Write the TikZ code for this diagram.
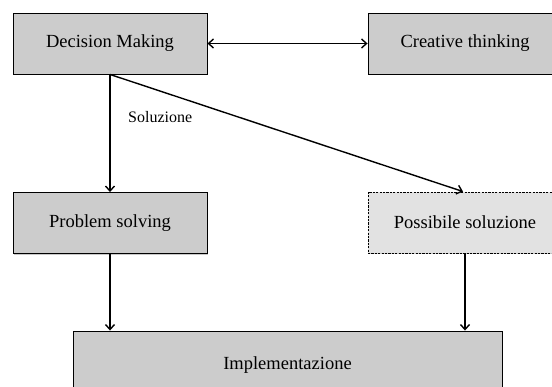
\documentclass[tikz,border=0pt]{standalone}
\usepackage{fontspec}
\setmainfont{Liberation Serif}
\usetikzlibrary{arrows.meta,shadows}
\definecolor{boxgray}{HTML}{CCCCCC}
\definecolor{lightgray2}{HTML}{E2E2E2}
\tikzset{
  block/.style={draw=black, line width=0.9pt, fill=boxgray, inner sep=0pt,
    minimum width=194pt, minimum height=61pt,
    font=\fontsize{18.5}{22}\selectfont,
    drop shadow={shadow xshift=1.2pt, shadow yshift=-1.5pt, fill=black!35, opacity=0.6}},
  optblock/.style={block, fill=lightgray2, dash pattern=on 2.2pt off 1.2pt},
  link/.style={line width=1.4pt, -{Straight Barb[length=5pt,width=9pt,line width=1.4pt]}},
  biglabel/.style={font=\fontsize{16}{19}\selectfont, inner sep=0pt}
}
\begin{document}
\begin{tikzpicture}[x=1pt, y=-1pt]
  \useasboundingbox (0,0) rectangle (552,387);
  \fill[white] (0,0) rectangle (552,387);
  \clip (0,0) rectangle (552,387);

  % boxes
  \node[block] (dm) at (110,43.5) {Decision Making};
  \node[block] (ct) at (465,43.5) {Creative thinking};
  \node[block] (ps) at (110,223) {Problem solving};
  \node[optblock] (po) at (465,222.5) {Possibile soluzione};
  \node[block, minimum width=429pt, minimum height=68pt] (im) at (287.5,365) {Implementazione};

  % label on the downward branch
  \node[biglabel, anchor=west] (sol) at (128,117) {Soluzione};

  % connectors
  \draw[link, {Straight Barb[length=5pt,width=9pt,line width=1.4pt]}-{Straight Barb[length=5pt,width=9pt,line width=1.4pt]}] (dm.east) -- (ct.west);
  \draw[link] (dm.south) -- (ps.north);
  \draw[link] (dm.south) -- ([xshift=-2pt]po.north);
  \draw[link] (ps.south) -- (ps.south |- im.north);
  \draw[link] (po.south) -- (po.south |- im.north);
\end{tikzpicture}
\end{document}
